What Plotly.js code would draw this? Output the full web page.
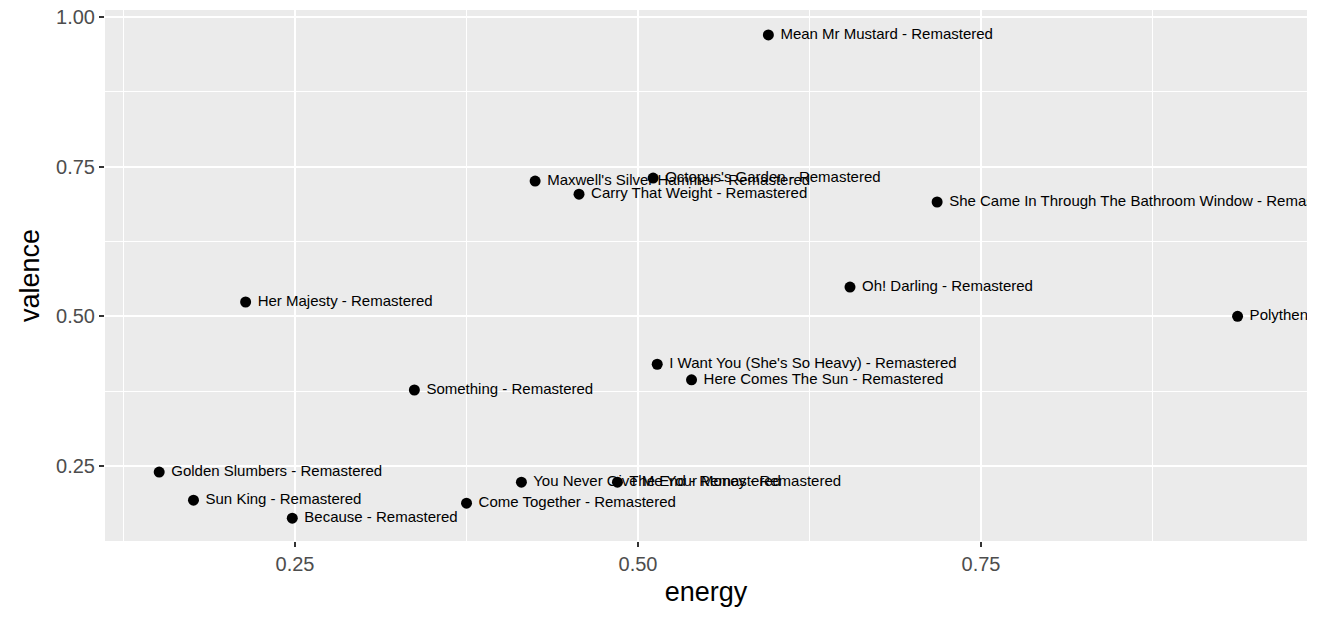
<!DOCTYPE html>
<html>
<head>
<meta charset="utf-8">
<script src="https://cdn.plot.ly/plotly-3.0.1.min.js"></script>
<style>body{margin:0;}#chart{width:1320px;height:624px;}</style>
</head>
<body>
<div id="chart"></div>
<script>
// track names, energy and valence
var tracks=["Mean Mr Mustard - Remastered","Octopus's Garden - Remastered","Maxwell's Silver Hammer - Remastered",
	"Carry That Weight - Remastered","She Came In Through The Bathroom Window - Remastered","Oh! Darling - Remastered",
	"Polythene Pam - Remastered","Her Majesty - Remastered","I Want You (She's So Heavy) - Remastered",
	"Here Comes The Sun - Remastered","Something - Remastered","Golden Slumbers - Remastered",
	"Sun King - Remastered","Because - Remastered","Come Together - Remastered",
	"You Never Give Me Your Money - Remastered","The End - Remastered"];
var energy=[0.595,0.511,0.425,0.457,0.718,0.6545,0.937,0.214,0.514,0.539,0.337,0.151,0.176,0.248,0.375,0.415,0.485];
var valence=[0.970,0.731,0.726,0.704,0.691,0.549,0.500,0.524,0.420,0.394,0.377,0.240,0.193,0.163,0.188,0.223,0.223];
var tickVals=[0.25,0.50,0.75,1.00];

var trace={
	x: energy,
	y: valence,
	text: tracks.map(function(t){return ' '+t;}),
	mode: 'markers+text',
	type: 'scatter',
	textposition: 'middle right',
	textfont: {family: 'Liberation Sans, Arial', size: 15, color: '#000'},
	marker: {color: '#000', size: 11},
	cliponaxis: true,
	hoverinfo: 'none'
};

function axis(range, title){
	return {
		range: range,
		tickvals: tickVals,
		tickformat: '.2f',
		showgrid: true,
		gridcolor: '#fff',
		gridwidth: 2,
		zeroline: false,
		showline: false,
		ticks: 'outside',
		ticklen: 5,
		tickcolor: '#333',
		tickwidth: 1.5,
		tickfont: {family: 'Liberation Sans, Arial', size: 20, color: '#4d4d4d'},
		minor: {dtick: 0.25, tick0: 0.125, showgrid: true, gridcolor: '#fff', gridwidth: 1, ticks: ''},
		title: {text: title, font: {family: 'Liberation Sans, Arial', size: 27, color: '#000'}, standoff: 8}
	};
}

var layout={
	width: 1320,
	height: 624,
	margin: {l: 105, r: 13, t: 10, b: 83},
	paper_bgcolor: '#fff',
	plot_bgcolor: '#ebebeb',
	showlegend: false,
	xaxis: axis([0.1115,0.9876],'energy'),
	yaxis: axis([0.1248,1.0117],'valence')
};

Plotly.newPlot('chart',[trace],layout,{displayModeBar:false});
</script>
</body>
</html>
